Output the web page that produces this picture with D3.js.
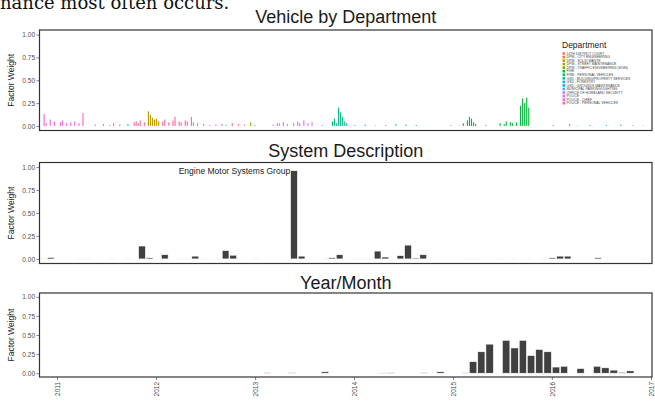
<!DOCTYPE html>
<html>
<head>
<meta charset="utf-8">
<script src="https://cdnjs.cloudflare.com/ajax/libs/d3/7.8.5/d3.min.js"></script>
<style>
    body { margin: 0; background: #fff; }
    svg { display: block; font-family: 'Liberation Sans', Arial, sans-serif; }
</style>
</head>
<body>
<div id="chart"></div>
<script>
'use strict';

// departments (legend order) and the ggplot hue colours used for them
let departments = [
    '16TH DISTRICT COURT',
    'DPW - CITY ENGINEERING',
    'DPW - SOLID WASTE',
    'DPW - STREET MAINTENANCE',
    'DPW - TRAFFIC ENGINEERING (SIGN)',
    'FIRE',
    'FIRE - PERSONAL VEHICLES',
    'GSD - BUILDING/PROPERTY SERVICES',
    'GSD - FORESTRY',
    'GSD - GROUNDS MAINTENANCE',
    'MUNICIPAL PARKING/LIGHTING',
    'OFFICE OF HOMELAND SECURITY',
    'POLICE',
    'POLICE - CHIEF',
    'POLICE - PERSONAL VEHICLES'
];
let departmentColors = ['#F8766D', '#E58700', '#C99800', '#A3A500', '#6BB100', '#00BA38', '#00BF7D',
    '#00C0AF', '#00BCD8', '#00B0F6', '#619CFF', '#B983FF', '#E76BF3', '#FD61D1', '#FF67A4'];

// vehicle panel: slot of the vehicle on the x axis, its department and its factor weight
let vehicleSlots = 300;
let vehicleIndex = [2, 3, 5, 7, 10, 11, 13, 15, 17, 19, 21, 27, 31, 34, 36, 39, 43,
    46, 47, 48, 49, 51, 53, 54, 55, 56, 57, 58, 60, 61, 63, 65, 66, 68, 69, 71, 72, 74, 75, 77,
    80, 83, 86, 89, 91, 94, 97, 100, 103, 105,
    114, 116, 117, 119, 121, 124, 126, 127, 129, 131, 133, 138,
    143, 144, 145, 146, 147, 148, 149, 150, 154, 159, 164, 169, 174, 179, 184,
    201, 205, 207, 209, 210, 211, 212, 213, 218, 225, 227, 228, 230, 231, 233,
    235, 236, 237, 238, 239, 251, 259, 263, 269, 277, 284, 290, 295];
let vehicleDept = [13, 13, 12, 13, 13, 12, 13, 13, 12, 13, 13, 14, 0, 12, 13, 4, 9,
    14, 14, 0, 14, 14, 2, 2, 2, 2, 2, 2, 14, 14, 0, 14, 14, 14, 0, 14, 14, 14, 14, 0,
    13, 1, 14, 14, 8, 14, 0, 14, 3, 9,
    12, 12, 11, 12, 12, 12, 12, 11, 12, 12, 12, 10,
    6, 6, 7, 6, 6, 6, 7, 6, 8, 9, 4, 10, 8, 9, 7,
    14, 1, 5, 5, 5, 5, 5, 5, 4, 5, 5, 5, 5, 5, 5,
    5, 5, 5, 5, 5, 8, 9, 10, 7, 8, 9, 10, 3];
let vehicleWeight = [0.13, 0.03, 0.07, 0.05, 0.04, 0.06, 0.03, 0.04, 0.05, 0.03, 0.14, 0.015, 0.02, 0.01, 0.03, 0.015, 0.02,
    0.04, 0.05, 0.03, 0.06, 0.04, 0.16, 0.12, 0.09, 0.07, 0.08, 0.05, 0.05, 0.07, 0.04, 0.06, 0.10, 0.05, 0.04, 0.06, 0.05, 0.10, 0.04, 0.03,
    0.02, 0.01, 0.015, 0.02, 0.01, 0.03, 0.02, 0.015, 0.04, 0.01,
    0.015, 0.03, 0.03, 0.04, 0.02, 0.03, 0.05, 0.03, 0.06, 0.03, 0.04, 0.01,
    0.05, 0.08, 0.03, 0.20, 0.15, 0.10, 0.05, 0.03, 0.01, 0.015, 0.005, 0.01, 0.02, 0.015, 0.01,
    0.01, 0.005, 0.03, 0.06, 0.10, 0.08, 0.04, 0.02, 0.01, 0.03, 0.02, 0.05, 0.04, 0.03, 0.04,
    0.22, 0.30, 0.25, 0.31, 0.20, 0.01, 0.02, 0.005, 0.01, 0.01, 0.015, 0.01, 0.005];

// system description panel: category slot and factor weight
let systemSlots = 80;
let systemIndex = [0, 1, 5, 6, 9, 11, 13, 14, 16, 18, 19, 20, 21, 23, 24, 25, 28, 33, 34, 37, 38, 39,
    41, 42, 43, 44, 45, 47, 48, 49, 50, 56, 57, 60, 62, 64, 66, 67, 68, 69, 73, 79];
let systemWeight = [0.004, 0.015, 0.004, 0.004, 0.004, 0.004, 0.14, 0.012, 0.045, 0.004, 0.004, 0.03, 0.004, 0.004,
    0.09, 0.04, 0.004, 0.96, 0.03, 0.004, 0.012, 0.045, 0.004, 0.004, 0.004, 0.085, 0.02, 0.035, 0.15, 0.01,
    0.045, 0.004, 0.004, 0.004, 0.004, 0.004, 0.004, 0.012, 0.03, 0.03, 0.012, 0.004];
let systemLabel = 'Engine Motor Systems Group';
let systemLabelIndex = 33;

// year/month panel
let months = ['2013-02', '2013-05', '2013-09', '2014-04', '2014-05', '2014-09', '2014-11', '2015-02',
    '2015-03', '2015-04', '2015-05', '2015-07', '2015-08', '2015-09', '2015-10', '2015-11', '2015-12',
    '2016-01', '2016-02', '2016-04', '2016-06', '2016-07', '2016-08', '2016-09', '2016-10'];
let monthWeight = [0.005, 0.005, 0.018, 0.003, 0.006, 0.006, 0.018, 0.004,
    0.15, 0.28, 0.38, 0.43, 0.33, 0.43, 0.23, 0.31, 0.28,
    0.08, 0.09, 0.06, 0.09, 0.07, 0.04, 0.01, 0.03];
let yearTicks = ['2011', '2012', '2013', '2014', '2015', '2016', '2017'];

let yTicks = [0, 0.25, 0.5, 0.75, 1];

let width = 655,
    height = 403;
let left = 39.5,
    right = 652;
let barFill = '#404040';

let svg = d3.select('#chart')
    .append('svg')
    .attr('width', width)
    .attr('height', height);

// cut off line of the surrounding text (the reference shows only its lower half)
svg.append('text')
    .attr('x', 0)
    .attr('y', 9)
    .style('font-family', "'DejaVu Serif', serif")
    .style('font-size', '18px')
    .style('fill', '#111')
    .text('nance most often occurs.');

/**
 * Draw the frame, title and y axis of one panel
 * @param {Object} cfg - title, top and bottom of the panel
 */
function initPanel(cfg) {
    let g = svg.append('g');
    let pad = (cfg.bottom - cfg.top) * 0.05 / 1.1;
    let y = d3.scaleLinear().domain([0, 1]).range([cfg.bottom - pad, cfg.top + pad]);

    g.append('text')
        .attr('x', (left + right) / 2)
        .attr('y', cfg.titleY)
        .attr('text-anchor', 'middle')
        .style('font-size', '18px')
        .style('fill', '#1a1a1a')
        .text(cfg.title);

    let yAxis = d3.axisLeft(y)
        .tickValues(yTicks)
        .tickFormat(d3.format('.2f'))
        .tickSize(3)
        .tickPadding(1.5);
    let gy = g.append('g')
        .attr('transform', 'translate(' + left + ',0)')
        .call(yAxis);
    gy.select('.domain').remove();
    gy.selectAll('line').style('stroke', '#333').style('stroke-width', 0.6);
    gy.selectAll('text').style('font-size', '6.5px').style('fill', '#4d4d4d')
        .style('font-family', "'Liberation Sans', Arial, sans-serif");

    g.append('text')
        .attr('transform', 'translate(14,' + ((cfg.top + cfg.bottom) / 2) + ') rotate(-90)')
        .attr('text-anchor', 'middle')
        .style('font-size', '8.5px')
        .style('fill', '#222')
        .text('Factor Weight');

    let bars = g.append('g');

    g.append('rect')
        .attr('x', left)
        .attr('y', cfg.top)
        .attr('width', right - left)
        .attr('height', cfg.bottom - cfg.top)
        .style('fill', 'none')
        .style('stroke', '#333')
        .style('stroke-width', 1.2);

    return {g: g, bars: bars, y: y};
}

// ---- Vehicle by Department ----
let p1 = initPanel({title: 'Vehicle by Department', titleY: 23, top: 30, bottom: 130.5});
let x1 = d3.scaleBand()
    .domain(d3.range(vehicleSlots))
    .range([left, right])
    .paddingInner(0.45);

p1.bars.selectAll('rect')
    .data(vehicleIndex)
    .enter().append('rect')
    .attr('x', function(d) {
        return x1(d);
    })
    .attr('width', x1.bandwidth())
    .attr('y', function(d, i) {
        return p1.y(vehicleWeight[i]);
    })
    .attr('height', function(d, i) {
        return p1.y(0) - p1.y(vehicleWeight[i]);
    })
    .style('fill', function(d, i) {
        return departmentColors[vehicleDept[i]];
    });

// legend
let legend = p1.g.append('g')
    .attr('transform', 'translate(562,0)');
legend.append('text')
    .attr('x', 0)
    .attr('y', 48)
    .style('font-size', '8.5px')
    .style('fill', '#222')
    .text('Department');
let keys = legend.selectAll('.key')
    .data(departments)
    .enter().append('g')
    .attr('class', 'key')
    .attr('transform', function(d, i) {
        return 'translate(0,' + (53.5 + i * 3.55) + ')';
    });
keys.append('rect')
    .attr('x', 0.5)
    .attr('y', -1.3)
    .attr('width', 2.6)
    .attr('height', 2.6)
    .style('fill', function(d, i) {
        return departmentColors[i];
    });
keys.append('text')
    .attr('x', 4.5)
    .attr('y', 1.2)
    .style('font-size', '3.4px')
    .style('fill', '#444')
    .text(function(d) {
        return d;
    });

// ---- System Description ----
let p2 = initPanel({title: 'System Description', titleY: 157, top: 162.5, bottom: 263.5});
let x2 = d3.scaleBand()
    .domain(d3.range(systemSlots))
    .range([38.3, 648.5])
    .paddingInner(0.12)
    .paddingOuter(0.2);

p2.bars.selectAll('rect')
    .data(systemIndex)
    .enter().append('rect')
    .attr('x', function(d) {
        return x2(d);
    })
    .attr('width', x2.bandwidth())
    .attr('y', function(d, i) {
        return p2.y(systemWeight[i]);
    })
    .attr('height', function(d, i) {
        return p2.y(0) - p2.y(systemWeight[i]);
    })
    .style('fill', barFill)
    .style('stroke', '#fff')
    .style('stroke-width', 0.5);

p2.g.append('text')
    .attr('x', x2(systemLabelIndex) - 0.5)
    .attr('y', p2.y(systemWeight[systemIndex.indexOf(systemLabelIndex)]))
    .attr('dy', '0.35em')
    .attr('text-anchor', 'end')
    .style('font-size', '8.5px')
    .style('fill', '#222')
    .text(systemLabel);

// ---- Year/Month ----
let p3 = initPanel({title: 'Year/Month', titleY: 289, top: 293, bottom: 377});
let parseMonth = d3.timeParse('%Y-%m');
let parseYear = d3.timeParse('%Y');
let x3 = d3.scaleTime()
    .domain([parseYear(yearTicks[0]), parseYear(yearTicks[yearTicks.length - 1])])
    .range([57, 651]);

p3.bars.selectAll('rect')
    .data(months)
    .enter().append('rect')
    .attr('x', function(d) {
        return x3(parseMonth(d)) + 0.5;
    })
    .attr('width', function(d) {
        let m = parseMonth(d);
        return x3(d3.timeMonth.offset(m, 1)) - x3(m) - 1;
    })
    .attr('y', function(d, i) {
        return p3.y(monthWeight[i]);
    })
    .attr('height', function(d, i) {
        return p3.y(0) - p3.y(monthWeight[i]);
    })
    .style('fill', barFill)
    .style('stroke', '#fff')
    .style('stroke-width', 0.5);

let xAxis = d3.axisBottom(x3)
    .tickValues(yearTicks.map(parseYear))
    .tickFormat(d3.timeFormat('%Y'))
    .tickSize(3);
let gx = p3.g.append('g')
    .attr('transform', 'translate(0,377)')
    .call(xAxis);
gx.select('.domain').remove();
gx.selectAll('line').style('stroke', '#333').style('stroke-width', 0.6);
gx.selectAll('text')
    .attr('transform', 'rotate(-90)')
    .attr('x', -5)
    .attr('y', 0)
    .attr('dy', '0.35em')
    .attr('text-anchor', 'end')
    .style('font-size', '6.5px')
    .style('fill', '#4d4d4d')
    .style('font-family', "'Liberation Sans', Arial, sans-serif");
</script>
</body>
</html>
